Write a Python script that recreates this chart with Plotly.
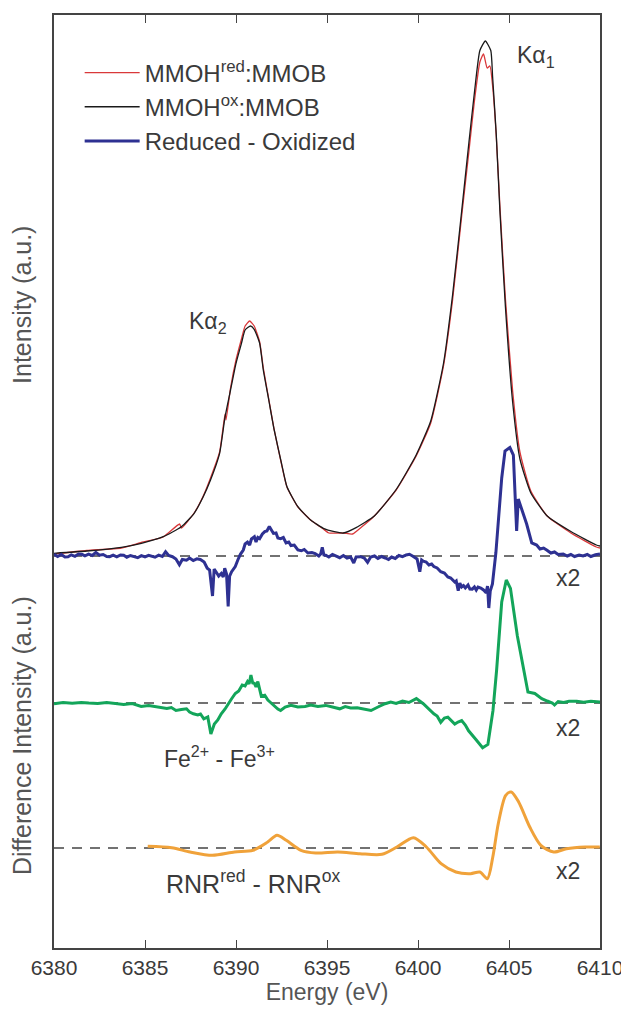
import plotly.graph_objects as go

# ---------------- data (energy in eV, intensity in arbitrary units) ----------------
E_ox = [6380.0, 6381.8, 6383.7, 6384.8, 6386.0, 6387.0, 6387.7, 6388.2, 6388.6, 6389.1,
        6389.4, 6389.7, 6390.0, 6390.3, 6390.5, 6390.8, 6391.0, 6391.3, 6391.5, 6391.8,
        6392.1, 6392.5, 6392.8, 6393.4, 6394.1, 6394.8, 6395.4, 6395.9, 6396.6, 6397.6,
        6398.8, 6399.9, 6400.7, 6401.4, 6401.9, 6402.4, 6402.8, 6403.1, 6403.4, 6403.7,
        6404.0, 6404.1, 6404.3, 6404.5, 6404.8, 6405.2, 6405.6, 6406.2, 6407.1, 6408.4,
        6409.8, 6410.0]
I_ox = [2.7, 5, 8.7, 12.7, 19.3, 29.3, 42.7, 59.3, 76, 102.7,
        139.3, 166, 192.7, 212.7, 226, 230, 226.7, 212.7, 186, 156,
        126, 92.7, 69.3, 49.3, 36, 27.7, 24.3, 23, 28.4, 40,
        66.5, 101, 135, 192.5, 261, 345, 414, 463.5, 505.5, 515,
        505.5, 479, 421.5, 345, 250, 154, 97, 63, 40, 24.5,
        11, 10]

E_red = [6380.0, 6381.8, 6383.7, 6384.8, 6386.0, 6386.9, 6387.0, 6387.7, 6388.2, 6388.6,
         6389.1, 6389.4, 6389.45, 6389.7, 6390.0, 6390.3, 6390.5, 6390.75, 6391.0, 6391.3,
         6391.5, 6391.8, 6392.1, 6392.5, 6392.8, 6393.4, 6394.1, 6394.8, 6395.1, 6395.9,
         6396.4, 6396.9, 6397.6, 6398.8, 6399.9, 6400.7, 6401.4, 6401.9, 6402.4, 6402.8,
         6403.1, 6403.4, 6403.6, 6403.8, 6403.95, 6404.1, 6404.3, 6404.5, 6404.8, 6405.2,
         6405.6, 6406.2, 6407.1, 6408.4, 6409.8, 6410.0]
I_red = [2, 5.5, 8, 13.5, 19, 32, 28, 43, 60, 78,
         104, 142, 136, 168, 196, 217, 230, 235, 230, 214,
         188, 157, 126, 92, 69, 49, 36, 27, 23, 23,
         22, 29, 40, 66, 100, 133, 190, 256, 340, 405,
         455, 494, 502, 488, 490, 470, 420, 350, 258, 165,
         104, 65, 40, 23, 9, 8]

E_diff = [6380.0, 6380.2, 6380.4, 6380.6, 6380.77, 6380.95, 6381.15, 6381.35, 6381.53, 6381.7,
          6381.9, 6382.1, 6382.3, 6382.5, 6382.7, 6382.9, 6383.06, 6383.25, 6383.45, 6383.65,
          6383.83, 6384.0, 6384.2, 6384.4, 6384.6, 6384.8, 6385.0, 6385.2, 6385.36, 6385.55,
          6385.75, 6385.95, 6386.13, 6386.3, 6386.51, 6386.7, 6386.89, 6387.05, 6387.28, 6387.45,
          6387.65, 6387.85, 6388.04, 6388.25, 6388.42, 6388.55, 6388.71, 6388.80, 6388.90, 6389.05,
          6389.19, 6389.30, 6389.38, 6389.48, 6389.57, 6389.65, 6389.76, 6389.86, 6389.96, 6390.1,
          6390.24, 6390.4, 6390.5, 6390.63, 6390.75, 6390.85, 6391.01, 6391.1, 6391.2, 6391.30,
          6391.45, 6391.58, 6391.7, 6391.83, 6391.95, 6392.06, 6392.2, 6392.3, 6392.45, 6392.6,
          6392.75, 6392.9, 6393.02, 6393.2, 6393.4, 6393.59, 6393.75, 6393.95, 6394.17, 6394.35,
          6394.55, 6394.65, 6394.74, 6394.83, 6394.93, 6395.1, 6395.3, 6395.5, 6395.70, 6395.9,
          6396.1, 6396.3, 6396.47, 6396.6, 6396.85, 6397.05, 6397.23, 6397.4, 6397.61, 6397.8,
          6398.0, 6398.2, 6398.38, 6398.55, 6398.75, 6398.95, 6399.15, 6399.35, 6399.53, 6399.7,
          6399.82, 6399.95, 6400.10, 6400.2, 6400.29, 6400.45, 6400.6, 6400.75, 6400.87, 6401.05,
          6401.25, 6401.45, 6401.64, 6401.8, 6402.02, 6402.1, 6402.21, 6402.3, 6402.4, 6402.50,
          6402.6, 6402.75, 6402.85, 6402.98, 6403.1, 6403.2, 6403.3, 6403.45, 6403.6, 6403.74,
          6403.82, 6403.89, 6403.97, 6404.09, 6404.28, 6404.60, 6404.78, 6405.05, 6405.24, 6405.33,
          6405.42, 6405.51, 6405.70, 6405.97, 6406.25, 6406.52, 6406.7, 6406.9, 6407.07, 6407.3,
          6407.5, 6407.7, 6407.98, 6408.2, 6408.4, 6408.6, 6408.85, 6409.07, 6409.3, 6409.5,
          6409.75, 6410.0]
I_diff = [1.7, -0.5, 1.5, -1.0, -0.7, 1.2, -0.3, 2.0, 1.7, 0.2,
          1.8, 0.5, 3.5, 0.8, 1.5, -0.5, -0.7, 0.8, -0.8, 1.0,
          0.7, -1.2, 0.5, -0.8, -1.7, 0.4, -0.9, 0.6, 0, -1.2,
          0.8, -0.5, 4.2, 0.5, -0.7, -3, -8.7, -3.5, -4.2, -2.0,
          -4.5, -2.8, -3.5, -6, -12.2, -14, -40, -13, -15.7, -20,
          -17.4, -21, -12.2, -18, -50.5, -20, -15.7, -13, -10.5, -4,
          1.7, 6, 12, 13.9, 11, 17, 19.2, 14, 18.5, 17.4,
          22, 24.4, 25, 29.6, 26, 22.6, 23, 18, 17.4, 18.5,
          13, 14, 10.5, 11, 6, 5.2, 6.5, 3, 3.5, 2.5,
          0, 2, 8.7, 1, 0.7, -1, 1.5, -0.5, -1.7, 0.5,
          -2, -1, -7, -1, -0.7, -2, -6.3, -1, 0, -2.5,
          -0.5, -2, -3.5, -1, -2.5, 0.5, -0.7, 1, 1.7, 0,
          -1.7, -3, -15.7, -4, -5.2, -6, -9, -8, -10.5, -12,
          -15.7, -17, -20.9, -22, -26.1, -25, -34.8, -27, -31, -29.6,
          -32, -29, -33, -33.1, -31, -34, -31, -32, -34, -36.6,
          -30, -52, -35, -27.9, 3.5, 78, 105, 108.5, 101, 59,
          25, 57, 47, 32, 13, 11, 7, 8, 6, 3,
          4, 1.5, 2, 0, 1.5, -0.5, 1, 0, 1.5, -0.5,
          1.2, 2]

E_fe = [6380.0, 6380.5, 6381.0, 6381.5, 6381.91, 6382.4, 6382.9, 6383.4, 6383.83, 6384.3,
        6384.79, 6385.2, 6385.74, 6386.2, 6386.45, 6386.70, 6387.0, 6387.28, 6387.45, 6387.66,
        6387.9, 6388.05, 6388.23, 6388.45, 6388.62, 6388.81, 6389.0, 6389.19, 6389.4, 6389.57,
        6389.75, 6389.96, 6390.15, 6390.34, 6390.5, 6390.63, 6390.72, 6390.82, 6390.92, 6391.01,
        6391.1, 6391.20, 6391.3, 6391.39, 6391.58, 6391.75, 6391.87, 6392.1, 6392.3, 6392.45,
        6392.7, 6393.02, 6393.4, 6393.79, 6394.1, 6394.5, 6394.93, 6395.3, 6395.70, 6396.0,
        6396.3, 6396.66, 6397.0, 6397.42, 6397.8, 6398.19, 6398.5, 6398.8, 6399.15, 6399.5,
        6399.91, 6400.29, 6400.87, 6401.05, 6401.25, 6401.45, 6401.64, 6402.02, 6402.2, 6402.40,
        6402.6, 6402.78, 6403.17, 6403.55, 6403.84, 6404.12, 6404.32, 6404.60, 6404.85, 6405.08,
        6405.46, 6406.04, 6406.42, 6406.80, 6407.1, 6407.38, 6407.5, 6407.7, 6408.0, 6408.3,
        6408.72, 6409.1, 6409.5, 6410.0]
I_fe = [-0.7, 0.5, -0.3, 0.6, 0, -0.5, 0.4, -0.8, -1.4, -0.5,
        -3.4, -2.5, -4, -5.5, -4.5, -7.5, -6.5, -5.8, -9, -10.8,
        -12, -11, -15.9, -14, -31, -21, -17, -10.8, -6, -0.7,
        4, 9.5, 12, 18, 17, 21.4, 19, 28, 20, 19.7,
        16, 21.4, 12, 6.8, 7.8, 3, 1, -3, -6, -7.5,
        -4, -2.4, -4, -3.4, -2, -3.5, -2.4, -4, -5.8, -3.5,
        -5, -4.7, -6, -7.5, -4, -0.7, 1, -0.5, 2, 0.5,
        4.4, -0.7, -10.8, -13, -19.3, -15, -14.2, -21, -19, -17.6,
        -22, -27.8, -36.3, -44.7, -41.4, -7.5, 33, 101, 123, 114.6,
        67, 11, 9.5, 4.4, 2, 0, -2, 1.5, 0.5, 1.8,
        1.7, 0.8, 1.7, 1]

E_rnr = [6385.15, 6386.47, 6387.48, 6388.70, 6389.92, 6390.93, 6391.74, 6392.25, 6392.76, 6393.57,
         6394.38, 6395.59, 6396.81, 6398.02, 6398.84, 6399.75, 6400.46, 6401.27, 6402.08, 6402.89,
         6403.40, 6403.81, 6404.11, 6404.41, 6404.82, 6405.12, 6405.53, 6406.14, 6406.75, 6407.46,
         6408.16, 6409.18, 6409.99]
I_rnr = [1.7, 0.3, -4, -7.3, -4, -2.3, 6, 12.7, 7.7, -2.3,
         -5, -4, -5.7, -6.3, 1, 10.3, 1, -15.7, -24, -25.7,
         -24, -30.7, -9, 24.3, 52.7, 56, 46, 21, 2.7, -4,
         -0.7, 1, 1]

x_ticks = [6380, 6385, 6390, 6395, 6400, 6405, 6410]

# vertical offsets for stacked spectra
OFF_DIFF, OFF_FE, OFF_RNR = 0, -147, -292

FONT = "Arial, Liberation Sans, sans-serif"
TXT = "#3a3a3a"

fig = go.Figure()

fig.add_trace(go.Scatter(x=E_red, y=I_red, mode="lines", name="MMOH<sup>red</sup>:MMOB",
                         line=dict(color="#d9383a", width=1.3, shape="spline", smoothing=0.5)))
fig.add_trace(go.Scatter(x=E_ox, y=I_ox, mode="lines", name="MMOH<sup>ox</sup>:MMOB",
                         line=dict(color="#1a1a1a", width=1.3, shape="spline", smoothing=0.5)))
fig.add_trace(go.Scatter(x=E_diff, y=[v + OFF_DIFF for v in I_diff], mode="lines",
                         name="Reduced - Oxidized", line=dict(color="#2e3192", width=3)))
fig.add_trace(go.Scatter(x=E_fe, y=[v + OFF_FE for v in I_fe], mode="lines", showlegend=False,
                         line=dict(color="#13a55a", width=3)))
fig.add_trace(go.Scatter(x=E_rnr, y=[v + OFF_RNR for v in I_rnr], mode="lines", showlegend=False,
                         line=dict(color="#f0a23a", width=3, shape="spline", smoothing=0.8)))

for off in (OFF_DIFF, OFF_FE, OFF_RNR):
    fig.add_hline(y=off, line=dict(color="#444444", width=1.5, dash="10px,8px"), layer="below")

ann = dict(showarrow=False, font=dict(family=FONT, size=23, color=TXT))
fig.add_annotation(x=6406.5, y=500, text="Kα<sub>1</sub>", **ann)
fig.add_annotation(x=6388.46, y=234, text="Kα<sub>2</sub>", **ann)
fig.add_annotation(x=6408.25, y=OFF_DIFF - 22, text="x2", **ann)
fig.add_annotation(x=6408.25, y=OFF_FE - 25, text="x2", **ann)
fig.add_annotation(x=6408.25, y=OFF_RNR - 23, text="x2", **ann)
fig.add_annotation(x=6389.1, y=OFF_FE - 54, text="Fe<sup>2+</sup> - Fe<sup>3+</sup>", **ann)
fig.add_annotation(x=6390.95, y=OFF_RNR - 34, text="RNR<sup>red</sup> - RNR<sup>ox</sup>",
                   showarrow=False, font=dict(family=FONT, size=25, color=TXT))

ytitle = dict(showarrow=False, textangle=-90, xref="paper", yref="paper", x=-0.059,
              xanchor="center", yanchor="middle", font=dict(family=FONT, size=25, color="#555555"))
fig.add_annotation(y=0.689, text="Intensity (a.u.)", **ytitle)
fig.add_annotation(y=0.228, text="Difference Intensity (a.u.)", **ytitle)

# page body adds an 8px offset; figure is sized so the plot frame lands where the reference has it
fig.update_layout(
    width=621, height=1001,
    margin=dict(l=46, r=29, t=7, b=61),
    paper_bgcolor="white", plot_bgcolor="white",
    font=dict(family=FONT, color=TXT),
    showlegend=True,
    legend=dict(x=0.047, y=0.962, xanchor="left", yanchor="top", bgcolor="rgba(0,0,0,0)",
                font=dict(family=FONT, size=24, color=TXT), itemwidth=55, tracegroupgap=0),
    xaxis=dict(range=[6380, 6410], tickvals=x_ticks, ticks="inside", ticklen=8, tickwidth=1.3,
               tickcolor="#444", showline=True, linecolor="#444", linewidth=1.5, mirror="ticks",
               showgrid=False, zeroline=False, automargin=False,
               tickfont=dict(family=FONT, size=21, color=TXT),
               title=dict(text="Energy (eV)", font=dict(family=FONT, size=23, color="#555555"),
                          standoff=4)),
    yaxis=dict(range=[-392, 541], showticklabels=False, ticks="", showline=True, linecolor="#444",
               linewidth=1.5, mirror=True, showgrid=False, zeroline=False, automargin=False),
)

fig.write_html("out.html")
